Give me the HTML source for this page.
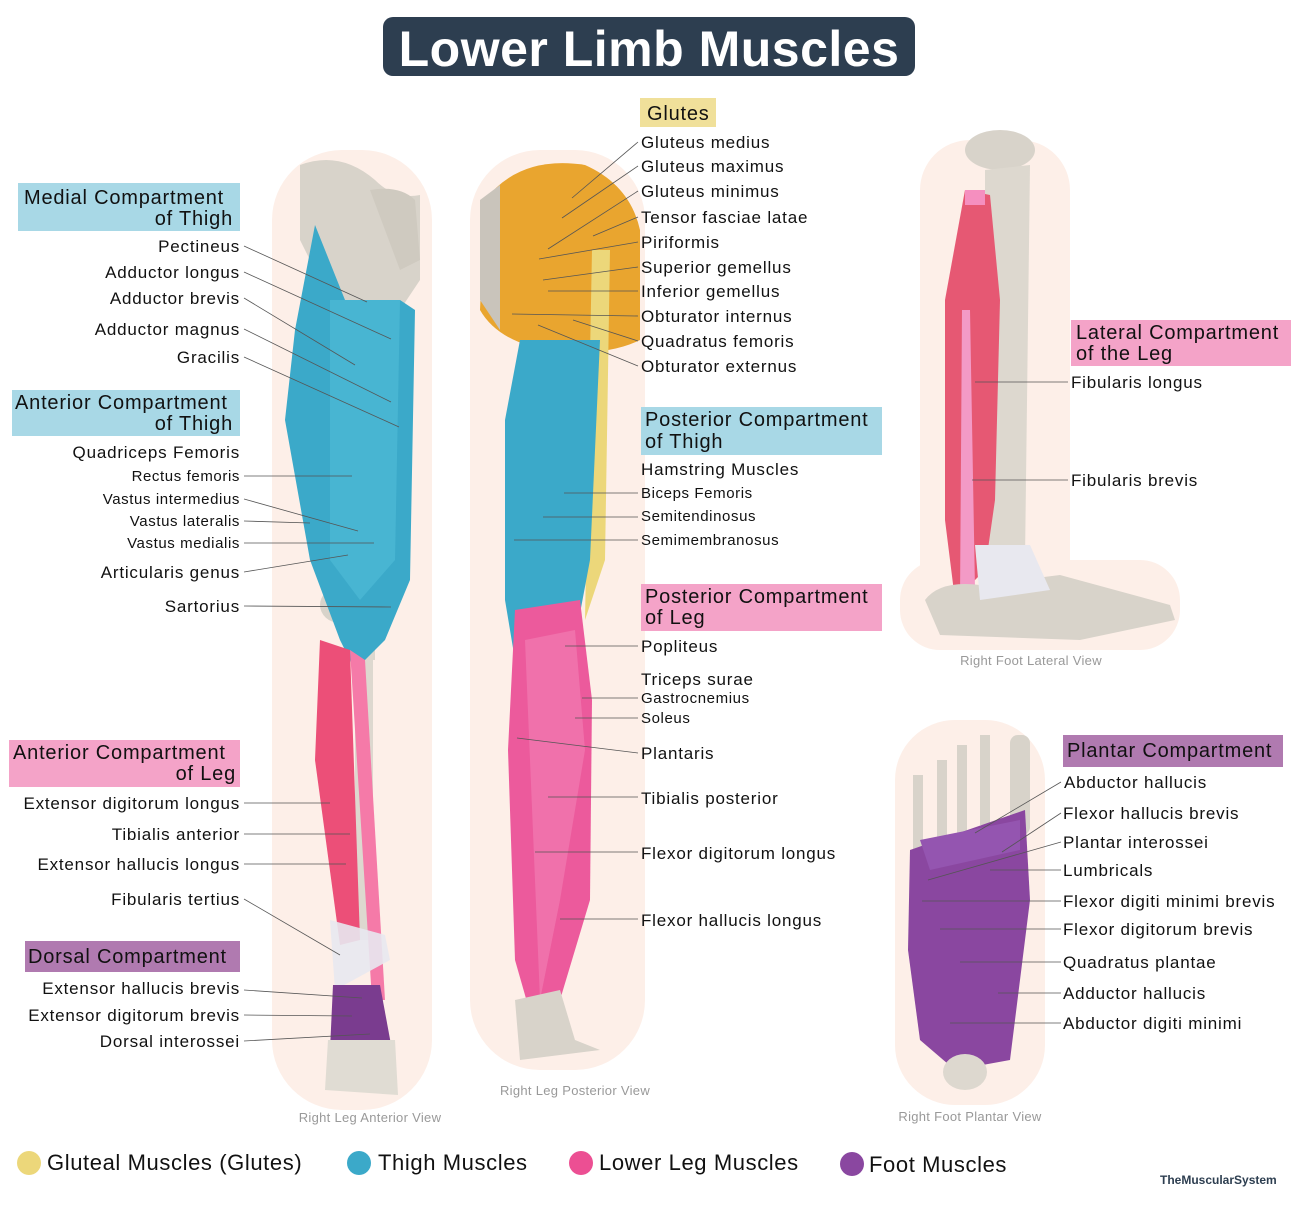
<!DOCTYPE html>
<html><head><meta charset="utf-8"><style>
html,body{margin:0;padding:0;background:#fff}
svg{display:block}
text{font-family:"Liberation Sans",sans-serif;fill:#111}
.l{font-size:17px;letter-spacing:0.8px}
.s{font-size:15px;letter-spacing:0.6px}
.h{font-size:20px;letter-spacing:0.8px}
.c{font-size:13px;fill:#999;letter-spacing:0.3px}
.g{font-size:22px;letter-spacing:0.6px}
line{stroke:#555;stroke-width:0.8}
.r{text-anchor:end}
</style></head><body>
<svg width="1300" height="1213" viewBox="0 0 1300 1213" xmlns="http://www.w3.org/2000/svg">
<!-- title -->
<rect x="383" y="17" width="532" height="59" rx="10" fill="#2d3e50"/>
<text x="649" y="66" text-anchor="middle" style="font-size:50px;font-weight:bold;fill:#fff;letter-spacing:0.5px">Lower Limb Muscles</text>

<!-- halos -->
<rect x="272" y="150" width="160" height="960" rx="70" fill="#fdefe8"/>
<rect x="470" y="150" width="175" height="920" rx="70" fill="#fdefe8"/>
<rect x="920" y="140" width="150" height="480" rx="50" fill="#fdefe8"/>
<rect x="900" y="560" width="280" height="90" rx="40" fill="#fdefe8"/>
<rect x="895" y="720" width="150" height="385" rx="60" fill="#fdefe8"/>

<!-- ANTERIOR VIEW -->
<path d="M300 165 Q340 150 375 180 Q395 200 420 195 L420 280 L400 310 L330 300 L300 240 Z" fill="#d8d3ca"/>
<path d="M370 190 Q400 185 415 200 L420 260 L400 270 Z" fill="#cfcac0"/>
<rect x="350" y="560" width="25" height="100" fill="#dcd7ce"/>
<ellipse cx="340" cy="605" rx="20" ry="18" fill="#d8d3ca"/>
<ellipse cx="375" cy="610" rx="18" ry="18" fill="#d8d3ca"/>
<rect x="355" y="640" width="18" height="300" fill="#ddd8cf"/>
<path d="M315 225 L345 300 L400 300 L415 310 L410 580 L385 640 L355 670 L340 640 L310 560 L285 420 L295 330 Z" fill="#3ba9c9"/>
<path d="M330 300 L400 300 L395 560 L360 600 L330 560 Z" fill="#4fbad6" opacity="0.7"/>
<path d="M320 640 L350 650 L360 940 L340 945 L315 760 Z" fill="#ec4f78"/>
<path d="M350 650 L365 660 L385 1000 L372 1000 Z" fill="#f57aa8"/>
<path d="M330 920 L385 935 L390 960 L335 990 Z" fill="#e8e8ef" opacity="0.9"/>
<path d="M333 985 L380 985 L392 1050 L330 1050 Z" fill="#7a3c8f"/>
<path d="M328 1040 L395 1040 L398 1095 L325 1090 Z" fill="#e0dcd3"/>

<!-- POSTERIOR VIEW -->
<path d="M485 200 Q520 155 585 165 Q630 185 640 230 L640 340 Q610 355 560 352 Q500 345 480 310 Z" fill="#e9a52f"/>
<path d="M480 200 L500 185 L500 330 L480 300 Z" fill="#c9c4bb"/>
<path d="M592 250 L610 250 L605 560 L585 620 Z" fill="#ecd77a"/>
<rect x="525" y="540" width="40" height="70" fill="#ddd8cf"/>
<path d="M520 340 L600 340 L590 560 L575 640 L520 690 L505 600 L505 420 Z" fill="#3ba9c9"/>
<path d="M515 610 L580 600 L592 700 L590 900 L560 1000 L535 1030 L515 960 L508 750 Z" fill="#ec5a9c"/>
<path d="M525 640 L575 630 L585 750 L560 900 L540 1000 Z" fill="#f27bb2" opacity="0.7"/>
<path d="M515 1000 L560 990 L575 1040 L600 1050 L520 1060 Z" fill="#d8d3ca"/>

<!-- LATERAL VIEW -->
<ellipse cx="1000" cy="150" rx="35" ry="20" fill="#d8d3ca"/>
<path d="M985 170 L1030 165 L1025 560 L1000 580 L985 560 Z" fill="#ddd8cf"/>
<path d="M965 190 L990 195 L1000 300 L995 500 L985 570 L955 600 L945 520 L945 300 Z" fill="#e65873"/>
<rect x="965" y="190" width="20" height="15" fill="#f58fbf"/>
<path d="M962 310 L970 310 L975 590 L1025 620 L1020 625 L960 600 Z" fill="#f39ac6"/>
<path d="M925 600 Q940 580 980 585 L1060 575 L1170 605 L1175 620 L1080 640 L940 635 Z" fill="#d8d3ca"/>
<path d="M975 545 L1030 545 L1050 590 L980 600 Z" fill="#e8e8ef"/>

<!-- PLANTAR VIEW -->
<rect x="1010" y="735" width="20" height="100" rx="8" fill="#d8d3ca"/>
<rect x="980" y="735" width="10" height="90" fill="#d8d3ca"/>
<rect x="957" y="745" width="10" height="90" fill="#d8d3ca"/>
<rect x="937" y="760" width="10" height="90" fill="#d8d3ca"/>
<rect x="913" y="775" width="10" height="90" fill="#d8d3ca"/>
<path d="M910 850 L1025 810 L1030 900 L1010 1060 L955 1070 L920 1040 L908 950 Z" fill="#8a47a0"/>
<path d="M920 840 L1020 820 L1020 850 L930 870 Z" fill="#9455b0"/>
<ellipse cx="965" cy="1072" rx="22" ry="18" fill="#ddd8cf"/>

<!-- LEFT LABELS -->
<rect x="18" y="183" width="222" height="48" fill="#a8d8e6"/>
<text class="h" x="24" y="204">Medial Compartment</text>
<text class="h r" x="233" y="225">of Thigh</text>
<text class="l r" x="240" y="252">Pectineus</text>
<text class="l r" x="240" y="278">Adductor longus</text>
<text class="l r" x="240" y="304">Adductor brevis</text>
<text class="l r" x="240" y="335">Adductor magnus</text>
<text class="l r" x="240" y="363">Gracilis</text>
<line x1="244" y1="246" x2="367" y2="302"/>
<line x1="244" y1="272" x2="391" y2="339"/>
<line x1="244" y1="298" x2="355" y2="365"/>
<line x1="244" y1="329" x2="391" y2="402"/>
<line x1="244" y1="357" x2="399" y2="427"/>

<rect x="12" y="390" width="228" height="46" fill="#a8d8e6"/>
<text class="h" x="15" y="409">Anterior Compartment</text>
<text class="h r" x="233" y="430">of Thigh</text>
<text class="l r" x="240" y="458">Quadriceps Femoris</text>
<text class="s r" x="240" y="481">Rectus femoris</text>
<text class="s r" x="240" y="504">Vastus intermedius</text>
<text class="s r" x="240" y="526">Vastus lateralis</text>
<text class="s r" x="240" y="548">Vastus medialis</text>
<text class="l r" x="240" y="578">Articularis genus</text>
<text class="l r" x="240" y="612">Sartorius</text>
<line x1="244" y1="476" x2="352" y2="476"/>
<line x1="244" y1="499" x2="358" y2="531"/>
<line x1="244" y1="521" x2="310" y2="523"/>
<line x1="244" y1="543" x2="374" y2="543"/>
<line x1="244" y1="572" x2="348" y2="555"/>
<line x1="244" y1="606" x2="391" y2="607"/>

<rect x="9" y="740" width="231" height="47" fill="#f4a3c8"/>
<text class="h" x="13" y="759">Anterior Compartment</text>
<text class="h r" x="236" y="780">of Leg</text>
<text class="l r" x="240" y="809">Extensor digitorum longus</text>
<text class="l r" x="240" y="840">Tibialis anterior</text>
<text class="l r" x="240" y="870">Extensor hallucis longus</text>
<text class="l r" x="240" y="905">Fibularis tertius</text>
<line x1="244" y1="803" x2="330" y2="803"/>
<line x1="244" y1="834" x2="350" y2="834"/>
<line x1="244" y1="864" x2="346" y2="864"/>
<line x1="244" y1="899" x2="340" y2="955"/>

<rect x="25" y="941" width="215" height="31" fill="#b07ab0"/>
<text class="h" x="28" y="963">Dorsal Compartment</text>
<text class="l r" x="240" y="994">Extensor hallucis brevis</text>
<text class="l r" x="240" y="1021">Extensor digitorum brevis</text>
<text class="l r" x="240" y="1047">Dorsal interossei</text>
<line x1="244" y1="990" x2="362" y2="998"/>
<line x1="244" y1="1015" x2="352" y2="1016"/>
<line x1="244" y1="1041" x2="370" y2="1034"/>

<!-- MIDDLE LABELS -->
<rect x="640" y="98" width="76" height="29" fill="#f0e09a"/>
<text class="h" x="647" y="120">Glutes</text>
<text class="l" x="641" y="148">Gluteus medius</text>
<text class="l" x="641" y="172">Gluteus maximus</text>
<text class="l" x="641" y="197">Gluteus minimus</text>
<text class="l" x="641" y="223">Tensor fasciae latae</text>
<text class="l" x="641" y="248">Piriformis</text>
<text class="l" x="641" y="273">Superior gemellus</text>
<text class="l" x="641" y="297">Inferior gemellus</text>
<text class="l" x="641" y="322">Obturator internus</text>
<text class="l" x="641" y="347">Quadratus femoris</text>
<text class="l" x="641" y="372">Obturator externus</text>
<line x1="638" y1="142" x2="572" y2="198"/>
<line x1="638" y1="166" x2="562" y2="218"/>
<line x1="638" y1="191" x2="548" y2="249"/>
<line x1="638" y1="217" x2="593" y2="236"/>
<line x1="638" y1="242" x2="539" y2="259"/>
<line x1="638" y1="267" x2="543" y2="280"/>
<line x1="638" y1="291" x2="548" y2="291"/>
<line x1="638" y1="316" x2="512" y2="314"/>
<line x1="638" y1="341" x2="573" y2="320"/>
<line x1="638" y1="366" x2="538" y2="325"/>

<rect x="641" y="407" width="241" height="48" fill="#a8d8e6"/>
<text class="h" x="645" y="426">Posterior Compartment</text>
<text class="h" x="645" y="448">of Thigh</text>
<text class="l" x="641" y="475">Hamstring Muscles</text>
<text class="s" x="641" y="498">Biceps Femoris</text>
<text class="s" x="641" y="521">Semitendinosus</text>
<text class="s" x="641" y="545">Semimembranosus</text>
<line x1="638" y1="493" x2="564" y2="493"/>
<line x1="638" y1="517" x2="543" y2="517"/>
<line x1="638" y1="540" x2="514" y2="540"/>

<rect x="641" y="584" width="241" height="47" fill="#f4a3c8"/>
<text class="h" x="645" y="603">Posterior Compartment</text>
<text class="h" x="645" y="624">of Leg</text>
<text class="l" x="641" y="652">Popliteus</text>
<text class="l" x="641" y="685">Triceps surae</text>
<text class="s" x="641" y="703">Gastrocnemius</text>
<text class="s" x="641" y="723">Soleus</text>
<text class="l" x="641" y="759">Plantaris</text>
<text class="l" x="641" y="804">Tibialis posterior</text>
<text class="l" x="641" y="859">Flexor digitorum longus</text>
<text class="l" x="641" y="926">Flexor hallucis longus</text>
<line x1="638" y1="646" x2="565" y2="646"/>
<line x1="638" y1="698" x2="582" y2="698"/>
<line x1="638" y1="718" x2="575" y2="718"/>
<line x1="638" y1="753" x2="517" y2="738"/>
<line x1="638" y1="797" x2="548" y2="797"/>
<line x1="638" y1="852" x2="535" y2="852"/>
<line x1="638" y1="919" x2="560" y2="919"/>

<!-- RIGHT LABELS -->
<rect x="1071" y="320" width="220" height="46" fill="#f4a3c8"/>
<text class="h" x="1076" y="339">Lateral Compartment</text>
<text class="h" x="1076" y="360">of the Leg</text>
<text class="l" x="1071" y="388">Fibularis longus</text>
<text class="l" x="1071" y="486">Fibularis brevis</text>
<line x1="1068" y1="382" x2="975" y2="382"/>
<line x1="1068" y1="480" x2="972" y2="480"/>

<rect x="1063" y="735" width="220" height="32" fill="#b07ab0"/>
<text class="h" x="1067" y="757">Plantar Compartment</text>
<text class="l" x="1064" y="788">Abductor hallucis</text>
<text class="l" x="1063" y="819">Flexor hallucis brevis</text>
<text class="l" x="1063" y="848">Plantar interossei</text>
<text class="l" x="1063" y="876">Lumbricals</text>
<text class="l" x="1063" y="907">Flexor digiti minimi brevis</text>
<text class="l" x="1063" y="935">Flexor digitorum brevis</text>
<text class="l" x="1063" y="968">Quadratus plantae</text>
<text class="l" x="1063" y="999">Adductor hallucis</text>
<text class="l" x="1063" y="1029">Abductor digiti minimi</text>
<line x1="1061" y1="782" x2="975" y2="833"/>
<line x1="1061" y1="813" x2="1002" y2="852"/>
<line x1="1061" y1="842" x2="928" y2="880"/>
<line x1="1061" y1="870" x2="990" y2="870"/>
<line x1="1061" y1="901" x2="922" y2="901"/>
<line x1="1061" y1="929" x2="940" y2="929"/>
<line x1="1061" y1="962" x2="960" y2="962"/>
<line x1="1061" y1="993" x2="998" y2="993"/>
<line x1="1061" y1="1023" x2="950" y2="1023"/>

<!-- captions -->
<text class="c" x="370" y="1122" text-anchor="middle">Right Leg Anterior View</text>
<text class="c" x="575" y="1095" text-anchor="middle">Right Leg Posterior View</text>
<text class="c" x="1031" y="665" text-anchor="middle">Right Foot Lateral View</text>
<text class="c" x="970" y="1121" text-anchor="middle">Right Foot Plantar View</text>

<!-- legend -->
<circle cx="29" cy="1163" r="12" fill="#ecd77a"/>
<text class="g" x="47" y="1170">Gluteal Muscles (Glutes)</text>
<circle cx="359" cy="1163" r="12" fill="#3ba9c9"/>
<text class="g" x="378" y="1170">Thigh Muscles</text>
<circle cx="581" cy="1163" r="12" fill="#ec4f93"/>
<text class="g" x="599" y="1170">Lower Leg Muscles</text>
<circle cx="852" cy="1164" r="12" fill="#8a47a0"/>
<text class="g" x="869" y="1172">Foot Muscles</text>
<text x="1160" y="1184" style="font-size:12px;font-weight:bold;fill:#2d3e50">TheMuscularSystem</text>
</svg>
</body></html>
